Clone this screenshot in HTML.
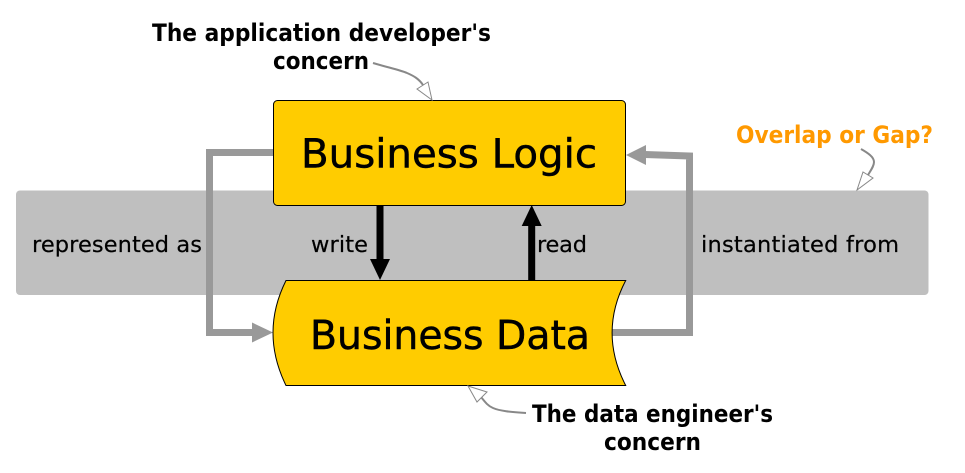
<!DOCTYPE html>
<html><head><meta charset="utf-8"><style>
html,body{margin:0;padding:0;background:#fff;width:965px;height:473px;overflow:hidden}
svg{display:block}
text{font-family:"DejaVu Sans","Liberation Sans",sans-serif;fill:#000}
.b{font-weight:bold;font-size:24px}
.m{font-size:22.5px;stroke:#000;stroke-width:.2px}
.l{font-size:40px;stroke:#000;stroke-width:.5px}
</style></head><body>
<svg width="965" height="473" viewBox="0 0 965 473" xmlns="http://www.w3.org/2000/svg">
<rect x="16" y="190.5" width="912.5" height="104.5" rx="4" fill="#bfbfbf"/>
<path d="M273 152.5H209.5V332.5H254" fill="none" stroke="#999" stroke-width="7"/>
<path d="M273 332.5L252 322.5V342.5Z" fill="#999"/>
<path d="M610 332.5H689.5V156L645 154.5" fill="none" stroke="#999" stroke-width="7"/>
<path d="M626 155L646 145V165Z" fill="#999"/>
<rect x="273.5" y="100.5" width="352" height="105" rx="4" fill="#fc0" stroke="#000" stroke-width="1"/>
<path d="M286 280.5H625.7Q598.5 332.5 625.7 385.5H286Q260 332.5 286 280.5Z" fill="#fc0" stroke="#000" stroke-width="1"/>
<path d="M380 205V262" stroke="#000" stroke-width="7" fill="none"/>
<path d="M380 280L370 259H390Z" fill="#000"/>
<path d="M531.7 280V224" stroke="#000" stroke-width="7" fill="none"/>
<path d="M531.7 205L521.7 226H541.7Z" fill="#000"/>
<path d="M373 63C390 68 400 70 407 73C414 76 419 79 423 85" fill="none" stroke="#888" stroke-width="2"/>
<path d="M432 100L417 89L428 82Z" fill="#fff" stroke="#888" stroke-width="1"/>
<path d="M861 149C868 153 874 157 874 162C874 166 871 170 868 175" fill="none" stroke="#888" stroke-width="2"/>
<path d="M857 190L863 172L873 178Z" fill="#fff" stroke="#888" stroke-width="1"/>
<path d="M526 413C510 412 500 411 493 408C488 406 485 402 481 397" fill="none" stroke="#888" stroke-width="2"/>
<path d="M468 386L487 392L477 402Z" fill="#fff" stroke="#888" stroke-width="1"/>
<text class="b" x="152" y="41" textLength="339" lengthAdjust="spacingAndGlyphs">The application developer's</text>
<text class="b" x="273" y="69" textLength="96" lengthAdjust="spacingAndGlyphs">concern</text>
<text class="b" x="532" y="422" textLength="241" lengthAdjust="spacingAndGlyphs">The data engineer's</text>
<text class="b" x="604" y="450" textLength="97" lengthAdjust="spacingAndGlyphs">concern</text>
<text class="b" x="736" y="143" textLength="197" lengthAdjust="spacingAndGlyphs" style="fill:#f90">Overlap or Gap?</text>
<text class="l" x="301" y="167.5" textLength="296" lengthAdjust="spacingAndGlyphs">Business Logic</text>
<text class="l" x="310" y="349" textLength="280" lengthAdjust="spacingAndGlyphs">Business Data</text>
<text class="m" x="32" y="252" textLength="170" lengthAdjust="spacing">represented as</text>
<text class="m" x="311" y="252" textLength="57" lengthAdjust="spacing">write</text>
<text class="m" x="537" y="252" textLength="50" lengthAdjust="spacing">read</text>
<text class="m" x="701" y="252" textLength="198" lengthAdjust="spacing">instantiated from</text>
</svg>
</body></html>
